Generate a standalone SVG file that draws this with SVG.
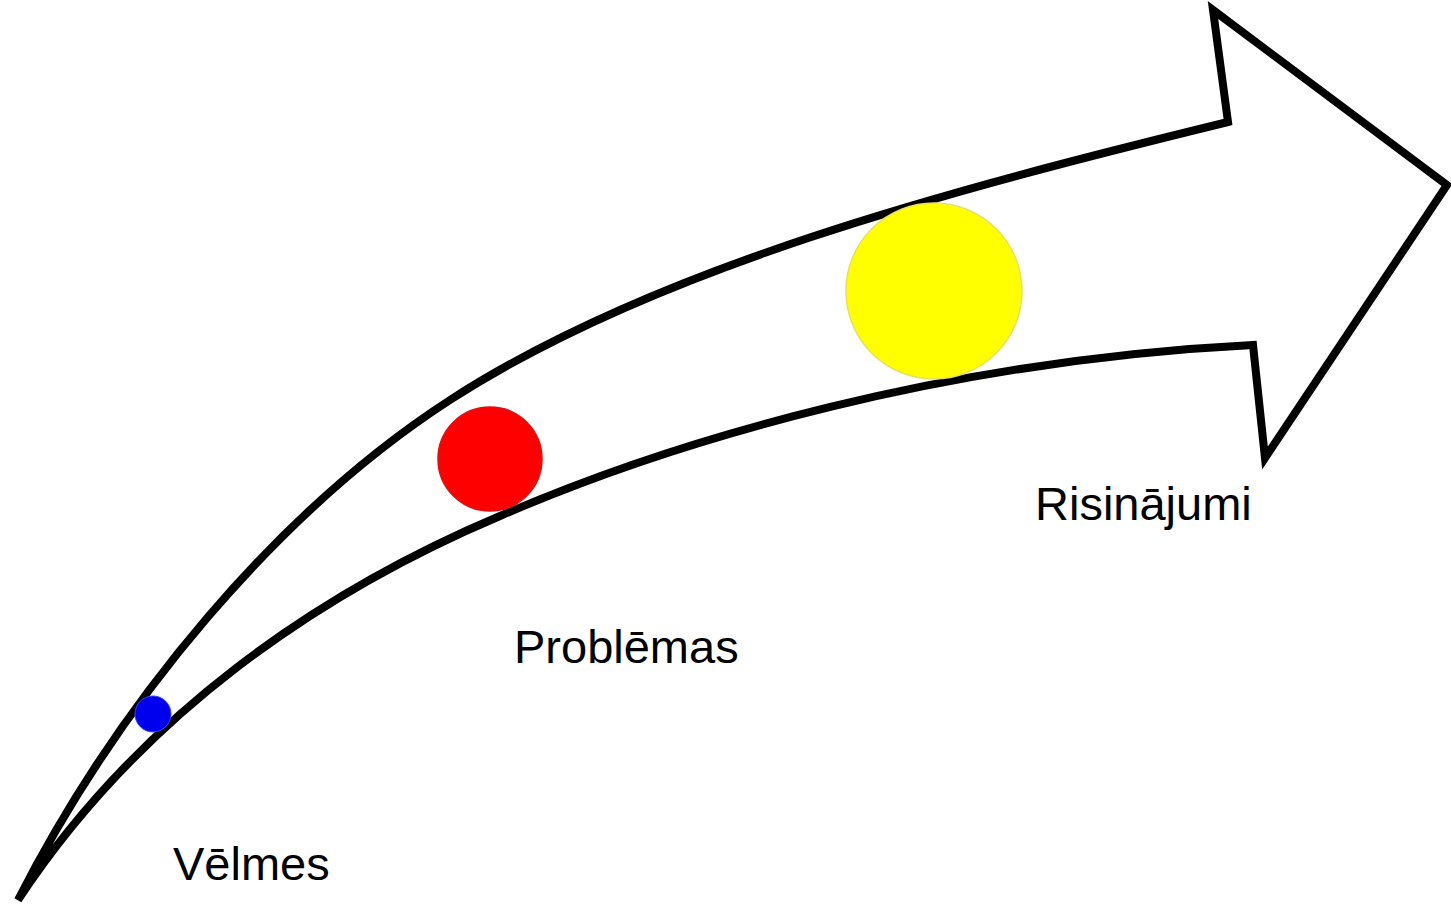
<svg xmlns="http://www.w3.org/2000/svg" width="1451" height="912" viewBox="0 0 1451 912">
<style>
.lbl{font-family:"Liberation Sans",Arial,sans-serif;font-size:47px;fill:#000}
.arrow{fill:#fff;stroke:#000;stroke-width:8;stroke-linejoin:miter;stroke-miterlimit:10}
</style>
<rect width="1451" height="912" fill="#fff"/>
<g id="arrow">
<path class="arrow" d="M18,900 C120,700 280,510 450,400 C654,268 950,190 1228,122 L1213,10 L1447,185 L1265,458 L1253,345 C950,360 680,438 500,516 C320,592 140,715 18,900 Z"/>
</g>
<g id="velmes">
<circle cx="153" cy="714" r="18" fill="#0000ee" stroke="#3344ff" stroke-width="1"/>
<text class="lbl" x="173" y="880">Vēlmes</text>
</g>
<g id="problemas">
<circle cx="490" cy="459" r="52" fill="#ff0000" stroke="#e01010" stroke-width="1.5"/>
<text class="lbl" x="514" y="663">Problēmas</text>
</g>
<g id="risinajumi">
<circle cx="934" cy="291" r="88" fill="#ffff00" stroke="#e8e060" stroke-width="1.5"/>
<text class="lbl" x="1035" y="520">Risinājumi</text>
</g>
</svg>
